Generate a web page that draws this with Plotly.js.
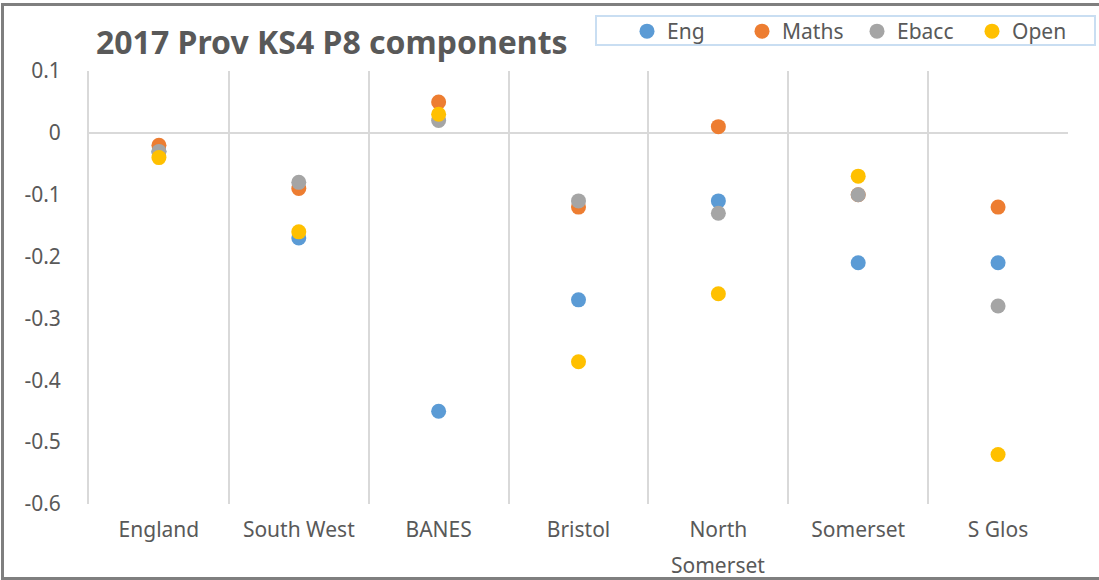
<!DOCTYPE html>
<html>
<head>
<meta charset="utf-8">
<script src="https://cdn.plot.ly/plotly-3.0.1.min.js"></script>
<style>
  html, body { margin: 0; padding: 0; background: #fff; overflow: hidden; }
  #chart { width: 1099px; height: 580px; }
  #frame { position: absolute; left: 1px; top: 3px; width: 1120px; height: 571px; border: 3px solid #7f7f7f; pointer-events: none; }
</style>
</head>
<body>
<div id="chart"></div>
<div id="frame"></div>
<script>
const categories = ["England", "South West", "BANES", "Bristol", "North Somerset", "Somerset", "S Glos"];
const categoryLabels = ["England", "South West", "BANES", "Bristol", "North", "Somerset", "S Glos"];
const wrappedLabelRest = "Somerset";
const eng   = [-0.03, -0.17, -0.45, -0.27, -0.11, -0.21, -0.21];
const maths = [-0.02, -0.09,  0.05, -0.12,  0.01, -0.10, -0.12];
const ebacc = [-0.03, -0.08,  0.02, -0.11, -0.13, -0.10, -0.28];
const open  = [-0.04, -0.16,  0.03, -0.37, -0.26, -0.07, -0.52];
const yTickVals = [0.1, 0, -0.1, -0.2, -0.3, -0.4, -0.5, -0.6];
const yTickText = ["0.1", "0", "-0.1", "-0.2", "-0.3", "-0.4", "-0.5", "-0.6"];

const FONT = "'Noto Sans', 'Open Sans', sans-serif";
const TXT = "#595959";

const W = 1099, H = 580;
const M = { l: 89, r: 31, t: 71, b: 76 };
const PW = W - M.l - M.r, PH = H - M.t - M.b;
function px2paperX(px) { return (px - M.l) / PW; }
function px2paperY(py) { return (H - M.b - py) / PH; }

function series(name, y, color) {
  return {
    type: "scatter", mode: "markers", name: name,
    x: categories, y: y,
    marker: { size: 15, color: color, line: { width: 0 } },
    hoverinfo: "skip"
  };
}

const data = [
  series("Eng", eng, "#5B9BD5"),
  series("Maths", maths, "#ED7D31"),
  series("Ebacc", ebacc, "#A5A5A5"),
  series("Open", open, "#FFC000")
];

const layout = {
  width: W, height: H,
  paper_bgcolor: "#ffffff", plot_bgcolor: "#ffffff",
  font: { family: FONT, color: TXT, size: 21 },
  margin: M,
  title: {
    text: "<b>2017 Prov KS4 P8 components</b>",
    font: { family: FONT, size: 32, color: TXT },
    xref: "container", yref: "container",
    x: 96 / W, xanchor: "left",
    y: 1 - 43 / H, yanchor: "middle"
  },
  showlegend: true,
  legend: {
    orientation: "h",
    xref: "container", yref: "container",
    x: 627 / W, xanchor: "left",
    y: 1 - 11 / H, yanchor: "top",
    borderwidth: 0,
    bgcolor: "rgba(0,0,0,0)",
    font: { family: FONT, size: 21, color: TXT },
    entrywidth: 70, entrywidthmode: "pixels",
    itemwidth: 30,
    traceorder: "normal"
  },
  shapes: [{
    type: "rect", xref: "paper", yref: "paper",
    x0: px2paperX(596), x1: px2paperX(1095),
    y0: px2paperY(45), y1: px2paperY(16),
    line: { color: "#c9def2", width: 2 },
    fillcolor: "rgba(0,0,0,0)", layer: "above"
  }],
  annotations: [{
    text: wrappedLabelRest, xref: "x", yref: "paper",
    x: "North Somerset", y: px2paperY(565),
    xanchor: "center", yanchor: "middle", showarrow: false,
    font: { family: FONT, size: 21, color: TXT }
  }],
  xaxis: {
    type: "category",
    categoryorder: "array", categoryarray: categories,
    tickvals: categories, ticktext: categoryLabels,
    range: [-0.5, 6.5],
    tickson: "boundaries",
    showgrid: true, gridcolor: "#d9d9d9", gridwidth: 2,
    showline: false, zeroline: false,
    ticks: "", ticklabelstandoff: 11,
    tickfont: { family: FONT, size: 21, color: TXT },
    fixedrange: true
  },
  yaxis: {
    range: [-0.6, 0.1],
    tickvals: yTickVals, ticktext: yTickText,
    showgrid: false,
    zeroline: true, zerolinecolor: "#d9d9d9", zerolinewidth: 2,
    showline: true, linecolor: "#d9d9d9", linewidth: 2,
    ticks: "outside", ticklen: 22, tickcolor: "rgba(0,0,0,0)",
    tickfont: { family: FONT, size: 21, color: TXT },
    fixedrange: true
  }
};

Plotly.newPlot("chart", data, layout, { displayModeBar: false, staticPlot: true });
</script>
</body>
</html>
